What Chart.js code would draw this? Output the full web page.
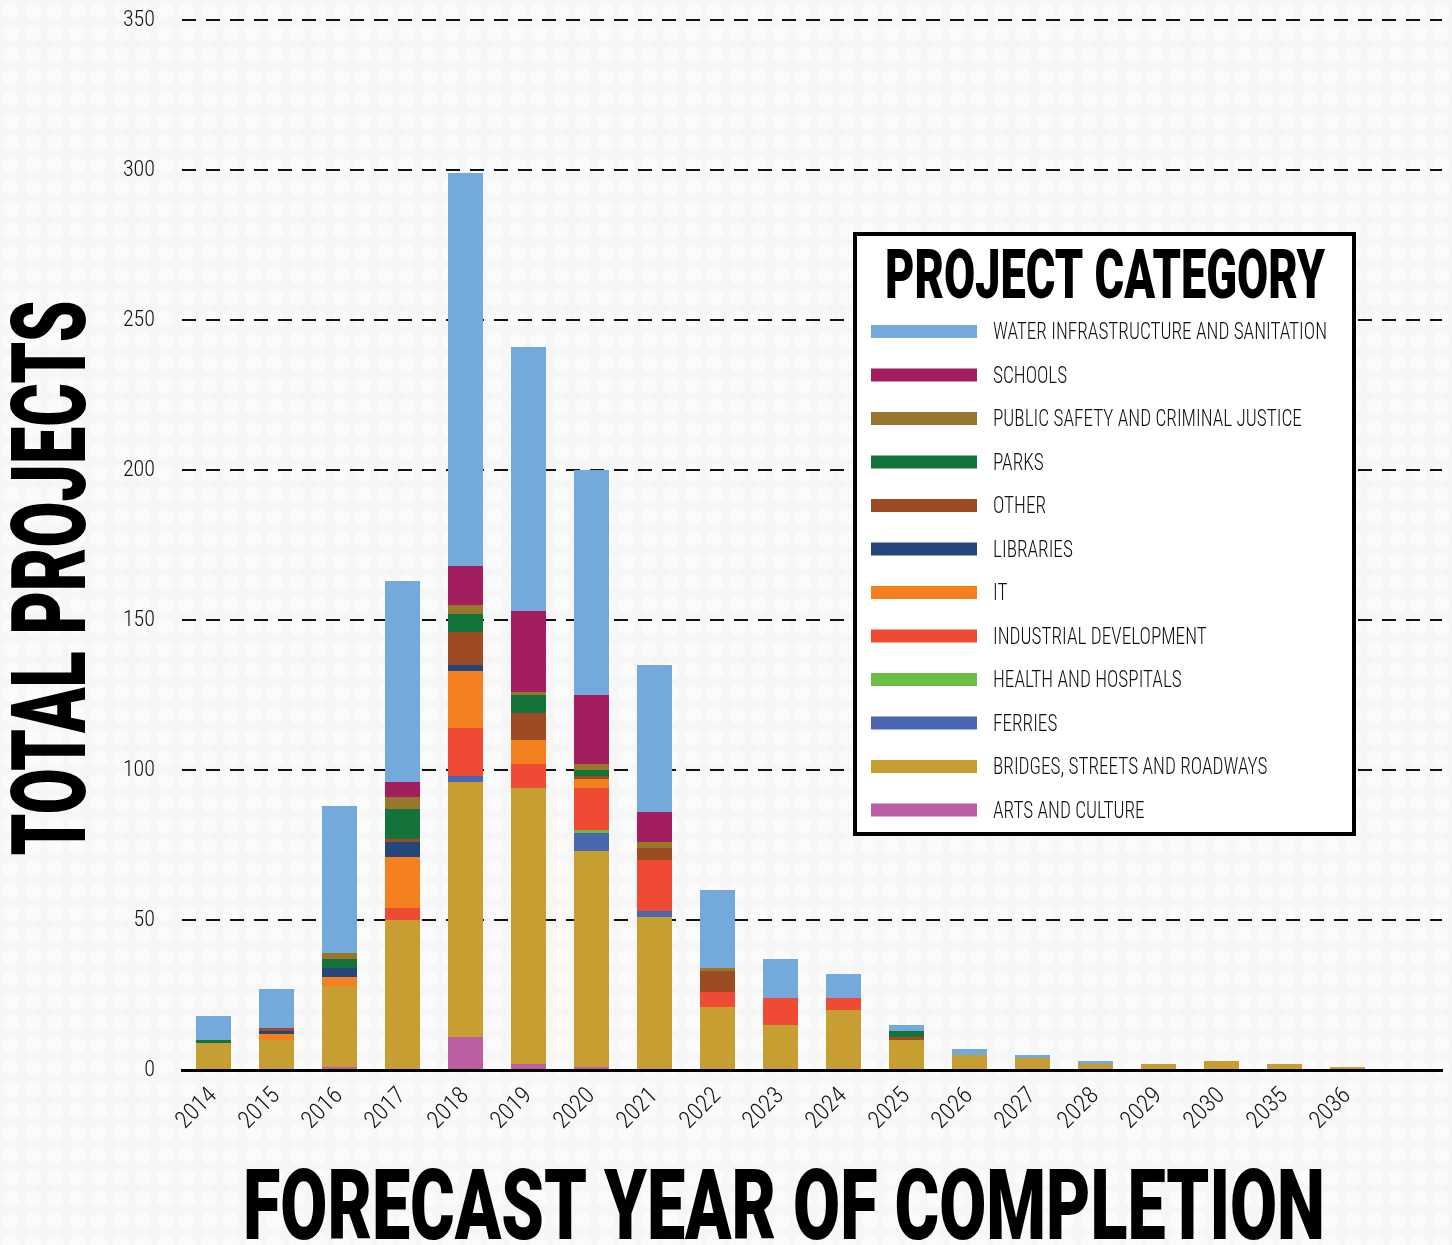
<!DOCTYPE html>
<html>
<head>
<meta charset="utf-8">
<title>Total projects by forecast year of completion</title>
<script src="https://cdn.jsdelivr.net/npm/chart.js@4.4.1/dist/chart.umd.min.js"></script>
<style>
    html, body { margin: 0; padding: 0; }
    body {
        width: 1452px;
        height: 1245px;
        overflow: hidden;
        background-color: #f6f6f6;
        background-image: radial-gradient(circle, #fbfbfb 8px, rgba(251,251,251,0) 9px);
        background-size: 22px 22px;
    }
    canvas { display: block; }
</style>
</head>
<body>
<canvas id="chart" width="1452" height="1245"></canvas>
<script>
"use strict";

// last category is left empty, the reference keeps a blank slot on the right
const years = ["2014", "2015", "2016", "2017", "2018", "2019", "2020", "2021", "2022", "2023",
    "2024", "2025", "2026", "2027", "2028", "2029", "2030", "2035", "2036", ""];

const arts         = [0, 0, 1, 0, 11, 2, 1, 0, 0, 0, 0, 0, 0, 0, 0, 0, 0, 0, 0];
const bridges      = [9, 10, 27, 50, 85, 92, 72, 51, 21, 15, 20, 10, 5, 4, 2, 2, 3, 2, 1];
const ferries      = [0, 0, 0, 0, 2, 0, 6, 2, 0, 0, 0, 0, 0, 0, 0, 0, 0, 0, 0];
const health       = [0, 0, 0, 0, 0, 0, 1, 0, 0, 0, 0, 0, 0, 0, 0, 0, 0, 0, 0];
const industrial   = [0, 0, 0, 4, 16, 8, 14, 17, 5, 9, 4, 0, 0, 0, 0, 0, 0, 0, 0];
const infoTech     = [0, 2, 3, 17, 19, 8, 3, 0, 0, 0, 0, 0, 0, 0, 0, 0, 0, 0, 0];
const libraries    = [0, 1, 3, 5, 2, 0, 0, 0, 0, 0, 0, 0, 0, 0, 0, 0, 0, 0, 0];
const other        = [0, 1, 0, 1, 11, 9, 1, 4, 7, 0, 0, 1, 0, 0, 0, 0, 0, 0, 0];
const parks        = [1, 0, 3, 10, 6, 6, 2, 0, 0, 0, 0, 2, 0, 0, 0, 0, 0, 0, 0];
const publicSafety = [0, 0, 2, 4, 3, 1, 2, 2, 1, 0, 0, 0, 0, 0, 0, 0, 0, 0, 0];
const schools      = [0, 0, 0, 5, 13, 27, 23, 10, 0, 0, 0, 0, 0, 0, 0, 0, 0, 0, 0];
const water        = [8, 13, 49, 67, 131, 88, 75, 49, 26, 13, 8, 2, 2, 1, 1, 0, 0, 0, 0];

const yTicks = [0, 50, 100, 150, 200, 250, 300, 350];

// bottom of the stack first
const series = [
    ["ARTS AND CULTURE", arts, "#bc5ea3"],
    ["BRIDGES, STREETS AND ROADWAYS", bridges, "#c79e31"],
    ["FERRIES", ferries, "#4a68b1"],
    ["HEALTH AND HOSPITALS", health, "#6cbd45"],
    ["INDUSTRIAL DEVELOPMENT", industrial, "#ef4a33"],
    ["IT", infoTech, "#f58020"],
    ["LIBRARIES", libraries, "#24467a"],
    ["OTHER", other, "#9c4b23"],
    ["PARKS", parks, "#14733a"],
    ["PUBLIC SAFETY AND CRIMINAL JUSTICE", publicSafety, "#98762c"],
    ["SCHOOLS", schools, "#a21e5e"],
    ["WATER INFRASTRUCTURE AND SANITATION", water, "#73aadb"]
];

const narrow = "'Liberation Sans Narrow', 'Roboto Condensed', 'DejaVu Sans Condensed', Roboto, sans-serif";
const heavy = "Roboto, 'Liberation Sans Narrow', 'DejaVu Sans Condensed', sans-serif";

function fitText(ctx, text, x, y, width) {
    const w = ctx.measureText(text).width;
    ctx.save();
    ctx.translate(x, y);
    ctx.scale(width / w, 1);
    ctx.fillText(text, 0, 0);
    ctx.restore();
}

const extras = {
    id: "extras",
    afterDraw(chart) {
        const ctx = chart.ctx;
        ctx.save();
        ctx.fillStyle = "#000";
        ctx.textBaseline = "alphabetic";

        // axis titles
        ctx.font = "900 103px " + heavy;
        ctx.textAlign = "center";
        ctx.save();
        ctx.translate(85, 578);
        ctx.rotate(-Math.PI / 2);
        fitText(ctx, "TOTAL PROJECTS", 0, 0, 555);
        ctx.restore();

        ctx.font = "900 99px " + heavy;
        fitText(ctx, "FORECAST YEAR OF COMPLETION", 784, 1239, 1082);

        // legend box
        ctx.fillStyle = "#fff";
        ctx.fillRect(855, 234, 499, 600);
        ctx.lineWidth = 4;
        ctx.strokeStyle = "#000";
        ctx.strokeRect(855, 234, 499, 600);

        ctx.fillStyle = "#000";
        ctx.font = "900 68px " + heavy;
        fitText(ctx, "PROJECT CATEGORY", 1105, 298, 440);

        const sets = chart.data.datasets.slice().reverse();
        ctx.font = "300 23px " + narrow;
        ctx.textAlign = "left";
        const longest = Math.max(...sets.map(d => ctx.measureText(d.label).width));
        const sx = 334 / longest;
        sets.forEach((d, i) => {
            const y = 331 + i * 43.5;
            ctx.fillStyle = d.backgroundColor;
            ctx.fillRect(871, y - 6, 106, 13);
            ctx.fillStyle = "#111";
            ctx.save();
            ctx.translate(993, y + 8);
            ctx.scale(sx, 1);
            ctx.fillText(d.label, 0, 0);
            ctx.restore();
        });
        ctx.restore();
    }
};

const ctx = document.getElementById("chart").getContext("2d");
const chart = new Chart(ctx, {
    type: "bar",
    data: {
        labels: years,
        datasets: series.map(s => ({
            label: s[0],
            data: s[1],
            backgroundColor: s[2],
            borderWidth: 0,
            categoryPercentage: 1.0,
            barPercentage: 0.556
        }))
    },
    options: {
        responsive: false,
        animation: false,
        layout: {
            padding: { left: 0, right: 10, top: 20, bottom: 0 }
        },
        plugins: {
            legend: { display: false },
            tooltip: { enabled: false }
        },
        scales: {
            x: {
                stacked: true,
                grid: { display: false, drawTicks: false },
                border: { display: true, color: "#000", width: 3 },
                ticks: {
                    color: "#111",
                    font: { family: narrow, size: 24, weight: 300 },
                    minRotation: 45,
                    maxRotation: 45,
                    padding: 12
                },
                afterFit(scale) {
                    scale.height = 175;
                    scale.paddingLeft = 0;
                    scale.paddingRight = 0;
                }
            },
            y: {
                stacked: true,
                min: 0,
                max: 350,
                afterBuildTicks(scale) { scale.ticks = yTicks.map(v => ({ value: v })); },
                grid: {
                    drawTicks: false,
                    lineWidth: 2,
                    color: c => c.tick && c.tick.value === 0 ? "rgba(0,0,0,0)" : "#111"
                },
                border: { display: false, dash: [14, 10] },
                ticks: {
                    color: "#111",
                    font: { family: narrow, size: 22, weight: 300 },
                    padding: 27
                },
                afterFit(scale) {
                    scale.width = 182;
                    scale.paddingTop = 0;
                    scale.paddingBottom = 0;
                }
            }
        }
    },
    plugins: [extras]
});
</script>
</body>
</html>
